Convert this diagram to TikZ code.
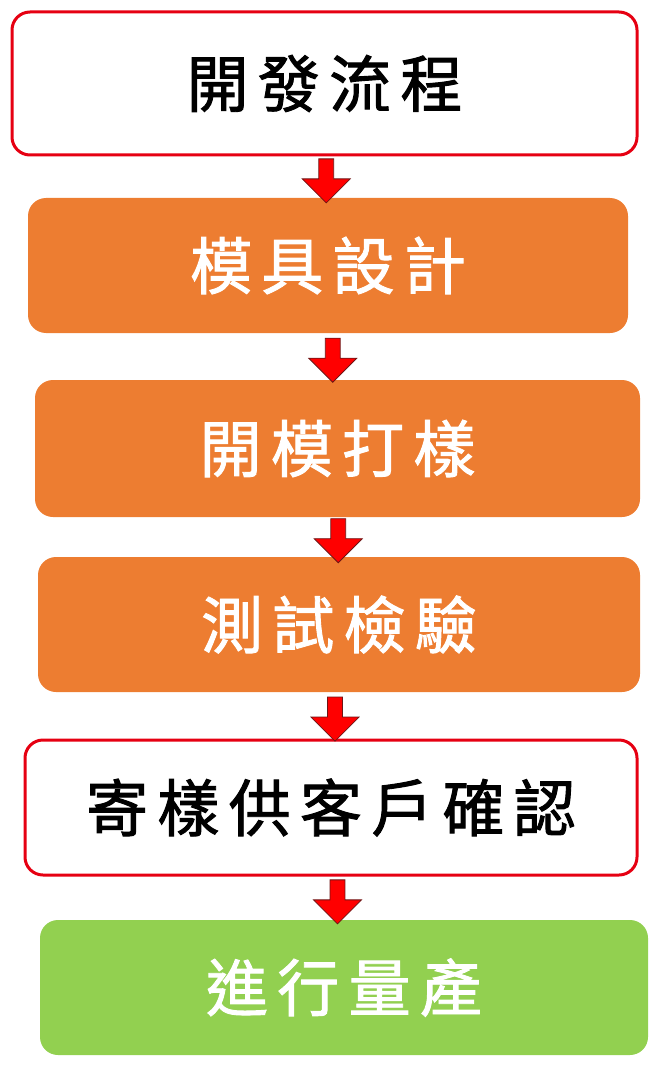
\documentclass[tikz,border=0pt]{standalone}
\usepackage{fontspec}
\newfontfamily\cjk[FakeBold=1.5, LetterSpace=15]{Noto Sans CJK TC}
\usetikzlibrary{shapes.arrows,calc}
\definecolor{boxred}{RGB}{230,0,18}
\definecolor{boxorange}{RGB}{237,125,49}
\definecolor{boxgreen}{RGB}{146,208,80}
\definecolor{arrowedge}{RGB}{110,20,20}
\tikzset{
  stage/.style = {rounded corners=18pt, inner sep=0pt, font=\cjk\fontsize{62}{68}\selectfont},
  plain/.style = {stage, draw=boxred, line width=3pt, fill=white, text=black},
  work/.style = {stage, fill=boxorange, text=white},
  done/.style = {stage, fill=boxgreen, text=white},
  downarrow/.style = {single arrow, draw=arrowedge, fill=red, line width=0.8pt,
    shape border rotate=270, minimum width=48pt, single arrow head extend=12pt,
    inner sep=5pt, minimum height=44pt}
}
\begin{document}
\begin{tikzpicture}[x=1pt, y=-1pt]
    \useasboundingbox (0,0) rectangle (662,1083);
    \node[plain, minimum width=625pt, minimum height=143pt] (flow) at (324.5,83.5) {開發流程};
    \node[work, minimum width=600pt, minimum height=135pt] (design) at (328,265.5) {模具設計};
    \node[work, minimum width=605pt, minimum height=137pt] (mold) at (337.5,448.5) {開模打樣};
    \node[work, minimum width=602pt, minimum height=135pt] (test) at (339,624.5) {測試檢驗};
    \node[plain, minimum width=612pt, minimum height=135pt] (confirm) at (331,807.5) {寄樣供客戶確認};
    \node[done, minimum width=608pt, minimum height=135pt] (mass) at (344,987.5) {進行量產};
    % Arrows between stages
    \foreach \a/\b in {flow/design, design/mold, mold/test, test/confirm, confirm/mass}
        \node[downarrow] at ($(\a.south)!0.5!(\b.north)$) {};
\end{tikzpicture}
\end{document}
